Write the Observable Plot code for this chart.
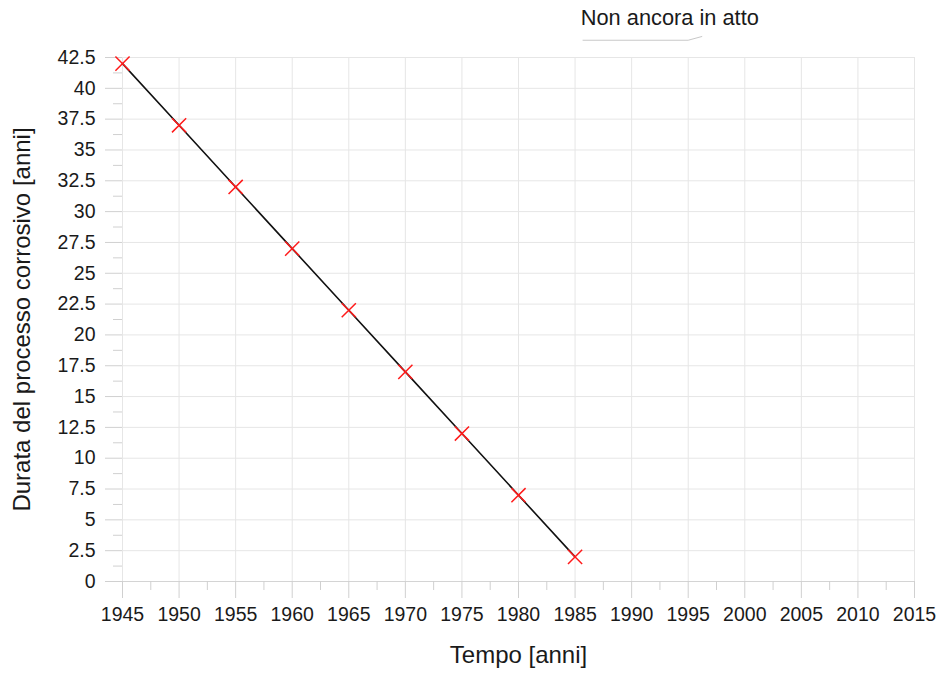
<!DOCTYPE html>
<html><head><meta charset="utf-8">
<script src="https://cdn.jsdelivr.net/npm/d3@7"></script>
<script src="https://cdn.jsdelivr.net/npm/@observablehq/plot@0.6"></script>
<style>body{margin:0;background:#fff;font-family:"Liberation Sans",Arial,sans-serif}</style>
</head><body><div id="chart"></div>
<script>
const years = [1945,1950,1955,1960,1965,1970,1975,1980,1985];
const durata = [42,37,32,27,22,17,12,7,2];
const xMajor = d3.range(1945, 2015.1, 5);
const xMinor = d3.range(1947.5, 2015, 5);
const yMajor = d3.range(0, 42.51, 2.5);
const yMinor = d3.range(1.25, 42.5, 2.5);
const xTitle = "Tempo [anni]";
const yTitle = "Durata del processo corrosivo [anni]";
const note = "Non ancora in atto";
const noteLine = [[1985.7,43.9],[1995.0,43.9],[1996.2,44.2]];

const data = years.map((y,i)=>({x:y, y:durata[i]}));
const plot = Plot.plot({
  width: 939, height: 675,
  marginLeft: 122, marginRight: 25, marginTop: 57, marginBottom: 94,
  style: {fontFamily: '"Liberation Sans", Arial, sans-serif', fontSize: "19px", color: "#1a1a1a", background: "#fff"},
  x: {domain: [1945, 2015]},
  y: {domain: [0, 42.5]},
  marks: [
    Plot.gridX(xMajor, {stroke: "#e6e6e6", strokeOpacity: 1}),
    Plot.gridY(yMajor, {stroke: "#e6e6e6", strokeOpacity: 1}),
    Plot.ruleY([0], {stroke: "#d4d4d4"}),
    Plot.axisX(xMajor, {tickSize: 17, text: null, stroke: "#d0d0d0", label: null}),
    Plot.axisX(xMinor, {tickSize: 9, text: null, stroke: "#d0d0d0", label: null}),
    Plot.axisY(yMajor, {tickSize: 17, text: null, stroke: "#d0d0d0", label: null}),
    Plot.axisY(yMinor, {tickSize: 9, text: null, stroke: "#d0d0d0", label: null}),
    Plot.text(xMajor, {x: d => d, text: d => String(d), frameAnchor: "bottom", dy: 39, fontSize: 19.5, fill: "#1a1a1a"}),
    Plot.text(yMajor, {y: d => d, text: d => String(d), frameAnchor: "left", textAnchor: "end", dx: -27, fontSize: 19.5, fill: "#1a1a1a"}),
    Plot.line(data, {x: "x", y: "y", stroke: "#111", strokeWidth: 1.6}),
    Plot.dot(data, {x: "x", y: "y", symbol: "times", r: 6.5, stroke: "#ff1a1a", strokeWidth: 1.5}),
    Plot.text([xTitle], {frameAnchor: "bottom", dy: 81, fontSize: 24, fill: "#1a1a1a"}),
    Plot.text([yTitle], {frameAnchor: "left", textAnchor: "middle", dx: -100, rotate: -90, fontSize: 24, fill: "#1a1a1a"}),
    Plot.text([note], {x: 1985.5, y: 45.7, textAnchor: "start", fontSize: 21.8, fill: "#1a1a1a", clip: false}),
    Plot.line(noteLine, {x: d=>d[0], y: d=>d[1], stroke: "#c8c8c8", strokeWidth: 1})
  ]
});
document.getElementById("chart").append(plot);
</script></body></html>
